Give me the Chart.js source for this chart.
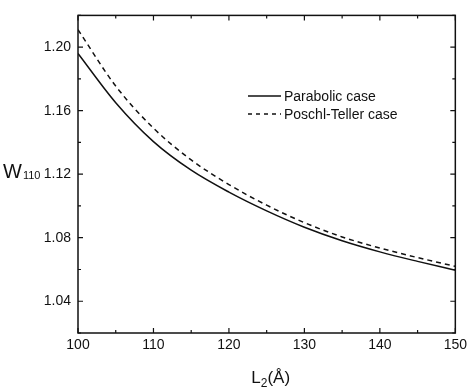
<!DOCTYPE html>
<html>
<head>
<meta charset="utf-8">
<script src="https://cdn.jsdelivr.net/npm/chart.js@4"></script>
<style>
  html, body { margin: 0; padding: 0; background: #ffffff; }
  #wrap { width: 471px; height: 390px; position: relative; }
</style>
</head>
<body>
<div id="wrap"><canvas id="c" width="471" height="390"></canvas></div>
<script>
// ---- data ----
const lengthL2 = [100, 105, 110, 115, 120, 125, 130, 135, 140, 145, 150];
const parabolicW = [1.196, 1.165, 1.1405, 1.1225, 1.1087, 1.0969, 1.0866, 1.0781, 1.0711, 1.0651, 1.0595];
const poschlTellerW = [1.211, 1.1755, 1.149, 1.129, 1.1135, 1.1005, 1.0895, 1.0805, 1.0735, 1.0675, 1.062];
const seriesNames = ['Parabolic case', 'Poschl-Teller case'];
const xTickValues = [100, 110, 120, 130, 140, 150];
const xMinorValues = [105, 115, 125, 135, 145];
const yTickValues = [1.04, 1.08, 1.12, 1.16, 1.20];
const yMinorValues = [1.02, 1.06, 1.10, 1.14, 1.18, 1.22];
const xRange = [100, 150];
const yRange = [1.02, 1.22];

const INK = '#111111';
const FONT = '"Liberation Sans", Arial, sans-serif';

const toPts = (ys) => lengthL2.map((x, i) => ({ x: x, y: ys[i] }));

const framePlugin = {
  id: 'frame',
  afterDraw(chart) {
    const ctx = chart.ctx;
    const a = chart.chartArea;
    const xs = chart.scales.x, ys = chart.scales.y;
    ctx.save();
    ctx.strokeStyle = INK;
    ctx.lineWidth = 1.5;
    ctx.strokeRect(a.left, a.top, a.right - a.left, a.bottom - a.top);
    ctx.lineWidth = 1.2;
    ctx.beginPath();
    const tickX = (v, len) => {
      const px = xs.getPixelForValue(v);
      ctx.moveTo(px, a.bottom); ctx.lineTo(px, a.bottom - len);
      ctx.moveTo(px, a.top); ctx.lineTo(px, a.top + len);
    };
    const tickY = (v, len) => {
      const py = ys.getPixelForValue(v);
      ctx.moveTo(a.left, py); ctx.lineTo(a.left + len, py);
      ctx.moveTo(a.right, py); ctx.lineTo(a.right - len, py);
    };
    xTickValues.forEach(v => tickX(v, 5));
    xMinorValues.forEach(v => tickX(v, 3));
    yTickValues.forEach(v => tickY(v, 5));
    yMinorValues.forEach(v => tickY(v, 3));
    ctx.stroke();

    // y title: W with subscript 110 (horizontal)
    ctx.fillStyle = INK;
    ctx.textBaseline = 'alphabetic';
    ctx.textAlign = 'left';
    const yMid = ys.getPixelForValue(1.12);
    ctx.font = '20px ' + FONT;
    ctx.fillText('W', 3, yMid + 4);
    const wW = ctx.measureText('W').width;
    ctx.font = '11px ' + FONT;
    ctx.fillText('110', 3 + wW + 1, yMid + 5);

    // x title: L with subscript 2, then (Å)
    const cx = (a.left + a.right) / 2 + 4;
    ctx.font = '17px ' + FONT;
    const wL = ctx.measureText('L').width;
    const wP = ctx.measureText('(Å)').width;
    ctx.font = '12px ' + FONT;
    const w2 = ctx.measureText('2').width;
    const total = wL + w2 + wP;
    let sx = cx - total / 2;
    const base = 383;
    ctx.font = '17px ' + FONT;
    ctx.fillText('L', sx, base);
    ctx.font = '12px ' + FONT;
    ctx.fillText('2', sx + wL, base + 4);
    ctx.font = '17px ' + FONT;
    ctx.fillText('(Å)', sx + wL + w2, base);

    // legend
    const lx0 = 248, lx1 = 281, tx = 284;
    const rows = [{ y: 96, dash: [] }, { y: 114, dash: [4, 4] }];
    ctx.font = '14px ' + FONT;
    ctx.textBaseline = 'middle';
    rows.forEach((r, i) => {
      const ds = chart.data.datasets[i];
      ctx.strokeStyle = ds.borderColor;
      ctx.lineWidth = ds.borderWidth;
      ctx.setLineDash(r.dash);
      ctx.beginPath();
      ctx.moveTo(lx0, r.y); ctx.lineTo(lx1, r.y);
      ctx.stroke();
      ctx.setLineDash([]);
      ctx.fillStyle = INK;
      ctx.fillText(ds.label, tx, r.y + 1);
    });
    ctx.restore();
  }
};

new Chart(document.getElementById('c'), {
  type: 'line',
  data: {
    datasets: [
      {
        label: seriesNames[0],
        data: toPts(parabolicW),
        borderColor: INK,
        borderWidth: 1.5,
        pointRadius: 0,
        fill: false,
        cubicInterpolationMode: 'monotone'
      },
      {
        label: seriesNames[1],
        data: toPts(poschlTellerW),
        borderColor: INK,
        borderWidth: 1.5,
        borderDash: [5, 4],
        pointRadius: 0,
        fill: false,
        cubicInterpolationMode: 'monotone'
      }
    ]
  },
  options: {
    responsive: false,
    animation: false,
    events: [],
    layout: { padding: { left: 0, right: 14, top: 13, bottom: 0 } },
    plugins: {
      legend: { display: false },
      tooltip: { enabled: false },
      title: { display: false }
    },
    scales: {
      x: {
        type: 'linear',
        min: xRange[0],
        max: xRange[1],
        grid: { display: false, drawTicks: false, tickLength: 0 },
        border: { display: false },
        afterBuildTicks: (s) => { s.ticks = xTickValues.map(v => ({ value: v })); },
        afterFit: (s) => { s.height = 57; },
        ticks: {
          color: INK,
          font: { family: FONT, size: 14 },
          padding: 4,
          maxRotation: 0,
          callback: (v) => String(v)
        }
      },
      y: {
        type: 'linear',
        min: yRange[0],
        max: yRange[1],
        grid: { display: false, drawTicks: false, tickLength: 0 },
        border: { display: false },
        afterBuildTicks: (s) => { s.ticks = yTickValues.map(v => ({ value: v })); },
        afterFit: (s) => { s.width = 78; },
        ticks: {
          color: INK,
          font: { family: FONT, size: 14 },
          padding: 7,
          callback: (v) => Number(v).toFixed(2)
        }
      }
    }
  },
  plugins: [framePlugin]
});
</script>
</body>
</html>
